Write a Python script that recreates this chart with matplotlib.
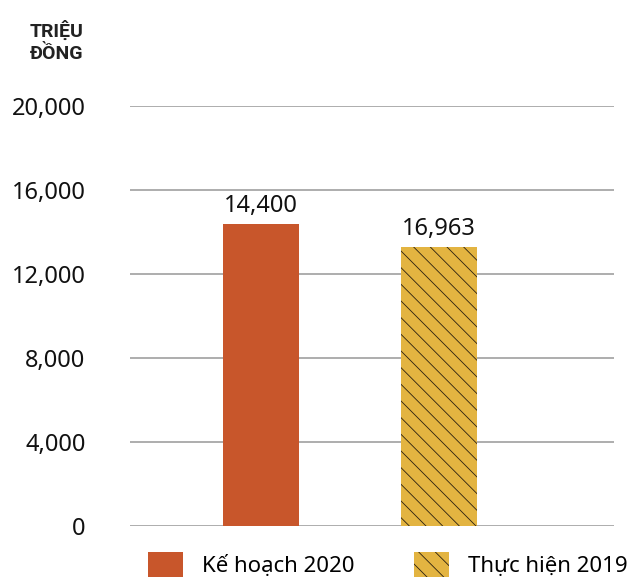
import matplotlib.pyplot as plt
from matplotlib.patches import Patch

categories = ['Kế hoạch 2020', 'Thực hiện 2019']
heights = [14400, 13300]
value_labels = ['14,400', '16,963']
colors = ['#C8562B', '#E3B441']
hatches = [None, '\\\\']
yticks = [0, 4000, 8000, 12000, 16000, 20000]
ytick_labels = ['0', '4,000', '8,000', '12,000', '16,000', '20,000']

plt.rcParams['font.family'] = ['Noto Sans', 'DejaVu Sans']
plt.rcParams['hatch.linewidth'] = 0.6
plt.rcParams['hatch.color'] = '#2a2010'

fig = plt.figure(figsize=(6.43, 5.83), dpi=100)
ax = fig.add_axes([130 / 643, 57 / 583, 484 / 643, 420 / 583])

x = [0, 1]
bars = ax.bar(x, heights, width=0.427, color=colors, zorder=3)
for b, h in zip(bars, hatches):
    if h:
        b.set_hatch(h)
        b.set_edgecolor('#2a2010')
        b.set_linewidth(0)

for xi, h, lab in zip(x, heights, value_labels):
    ax.text(xi, h + 280, lab, ha='center', va='bottom', fontsize=17, color='#111111')

ax.set_xlim(-0.736, 1.983)
ax.set_ylim(0, 20000)
ax.set_yticks(yticks)
ax.set_yticklabels(ytick_labels, fontsize=17, color='#111111')
ax.set_xticks([])
ax.tick_params(axis='y', length=0, pad=32)
ax.grid(axis='y', color='#a0a0a0', linewidth=1.2, zorder=0)
for s in ax.spines.values():
    s.set_visible(False)

fig.text(84 / 643, 1 - 42 / 583, 'TRIỆU\nĐỒNG', ha='right', va='center',
         fontsize=14, fontweight='bold', color='#222222',
         linespacing=1.3, family=['Roboto', 'DejaVu Sans'])

handles = [Patch(facecolor=colors[0]),
           Patch(facecolor=colors[1], hatch=hatches[1], edgecolor='#2a2010', linewidth=0)]
fig.legend(handles, categories, loc='upper left', bbox_to_anchor=(148 / 643, 1 - 552 / 583),
           ncol=2, frameon=False, fontsize=16, handlelength=1.58, handleheight=1.35,
           handletextpad=0.86, columnspacing=2.65, borderpad=0, borderaxespad=0)

fig.savefig('out.png', dpi=100)
